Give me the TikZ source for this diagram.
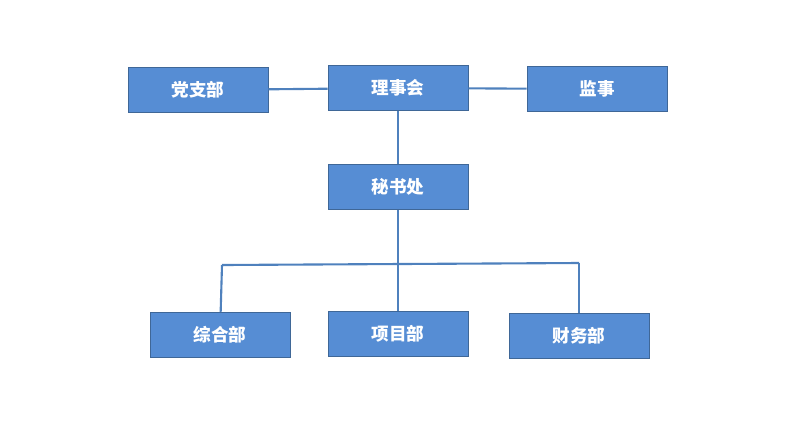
\documentclass[tikz,border=0pt]{standalone}
\usepackage{fontspec}
\newfontfamily\cjk{Noto Sans CJK SC}
\usetikzlibrary{positioning}
\definecolor{boxblue}{HTML}{568DD4}
\definecolor{lineblue}{HTML}{4F81BD}
\tikzset{
  unit/.style={draw=lineblue!80!black, fill=boxblue, minimum width=2.8cm, minimum height=0.9cm,
    text=white, font=\cjk\bfseries\fontsize{10}{12}\selectfont},
  link/.style={draw=lineblue, line width=1.2pt}
}
\begin{document}
\begin{tikzpicture}[x=0.02cm,y=-0.02cm]
	\useasboundingbox (0,0) rectangle (800,437);
	% top row
	\node[unit] (council) at (398,88) {理事会};
	\node[unit] (party) at (198,90) {党支部};
	\node[unit] (super) at (597,89) {监事};
	% secretariat
	\node[unit] (sec) at (398,187) {秘书处};
	% departments
	\node[unit] (general) at (220,335) {综合部};
	\node[unit] (project) at (398,334) {项目部};
	\node[unit] (finance) at (579,336) {财务部};

	\coordinate (busL) at (222,265);
	\coordinate (busM) at (398,264);
	\coordinate (busR) at (579,263);

	\draw[link] (party) -- (council);
	\draw[link] (council) -- (super);
	\draw[link] (council) -- (sec);
	\draw[link] (sec) -- (busM) -- (project);
	\draw[link] (busL) -- (busR);
	\draw[link] (busL) -- (general);
	\draw[link] (busR) -- (finance);
\end{tikzpicture}
\end{document}
